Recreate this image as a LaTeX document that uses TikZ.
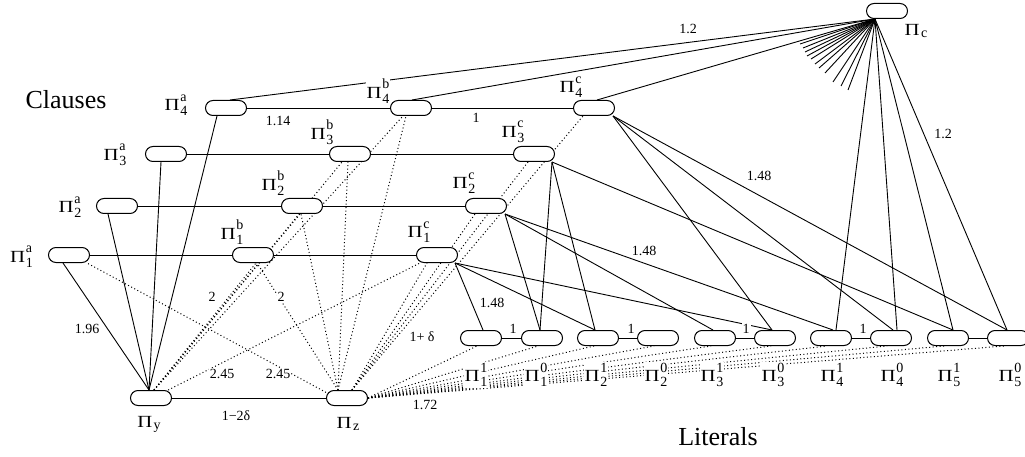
\documentclass[tikz,border=0pt]{standalone}
\usepackage{fontspec}
\usepackage{graphicx}
\setmainfont{Liberation Serif}
\usetikzlibrary{backgrounds}

% Pi with stacked super- and subscript
\newcommand\PiG{\scalebox{1.22}[1]{\fontsize{17pt}{17pt}\selectfont Π}}
\newcommand\PiL[2]{\PiG\kern0.8pt{\fontsize{14pt}{14pt}\selectfont\rlap{\raisebox{9.5pt}{#1}}\raisebox{-5pt}{#2}}}
\newcommand\PiS[1]{\PiG\kern1.5pt{\fontsize{14pt}{14pt}\selectfont\raisebox{-2pt}{#1}}}

\tikzset{
  pill/.style={draw, line width=1pt, fill=white, rounded corners=7.5pt,
               minimum width=41pt, minimum height=15pt, inner sep=0pt},
  edge/.style={line width=0.9pt},
  dots/.style={line width=1pt, dash pattern=on 1pt off 2.5pt},
  wt/.style={font=\fontsize{14pt}{14pt}\selectfont, fill=white, inner sep=1pt},
  plab/.style={fill=white, inner sep=1pt},
  heading/.style={font=\fontsize{26pt}{26pt}\selectfont}
}

\begin{document}
\begin{tikzpicture}[x=1pt,y=-1pt]
\useasboundingbox (0,0) rectangle (1025,457);

% clause gadgets
\node[pill] (a1) at (69,255) {};
\node[pill] (a2) at (117,206) {};
\node[pill] (a3) at (166,154) {};
\node[pill] (a4) at (226,108) {};
\node[pill] (b1) at (253,255) {};
\node[pill] (b2) at (302,206) {};
\node[pill] (b3) at (350,154) {};
\node[pill] (b4) at (411,108) {};
\node[pill] (c1) at (437,255) {};
\node[pill] (c2) at (486,206) {};
\node[pill] (c3) at (534,154) {};
\node[pill] (c4) at (594,108) {};
% special vertices
\node[pill] (pc) at (887,11) {};
\node[pill] (py) at (151,398) {};
\node[pill] (pz) at (347,398) {};
% literal vertices
\foreach \n/\x in {l11/481,l10/542,l21/598,l20/658,l31/715,l30/775,l41/831,l40/891,l51/948,l50/1008}
  \node[pill] (\n) at (\x,338) {};

\coordinate (pco) at ([xshift=-12pt]pc.south);

\begin{scope}[on background layer]
  % rows of the clause gadgets
  \draw[edge] (a1) -- (b1) -- (c1);
  \draw[edge] (a2) -- (b2) -- (c2);
  \draw[edge] (a3) -- (b3) -- (c3);
  \draw[edge] (a4) -- (b4) -- (c4);
  \draw[edge] (py) -- (pz);
  \foreach \i in {1,...,5} \draw[edge] (l\i1) -- (l\i0);

  % Pi_y to the a-vertices
  \draw[edge] ([xshift=-2pt]py.north) -- ([xshift=-6pt]a1.south);
  \draw[edge] ([xshift=-2pt]py.north) -- ([xshift=-9pt]a2.south);
  \draw[edge] ([xshift=-2pt]py.north) -- ([xshift=-5pt]a3.south);
  \draw[edge] ([xshift=-2pt]py.north) -- ([xshift=-9pt]a4.south);

  % Pi_c
  \draw[edge] (pco) -- ([xshift=4pt]a4.north);
  \draw[edge] (pco) -- ([xshift=1pt]b4.north);
  \draw[edge] (pco) -- ([xshift=3pt]c4.north);
  \draw[edge] (pco) -- ([xshift=5pt]l41.north);
  \draw[edge] (pco) -- ([xshift=6pt]l40.north);
  \draw[edge] (pco) -- ([xshift=5pt]l51.north);
  \draw[edge] (pco) -- ([xshift=-1pt]l50.north);
  \foreach \x/\y in {800/44,803/48,805/52,807/56,811/59,815/64,819/68,825/73,833/82,841/86,848/90}
    \draw[edge] (pco) -- (\x,\y);

  % clause vertices to their literals
  \draw[edge] ([xshift=18pt]c1.south) -- ([xshift=2pt]l11.north);
  \draw[edge] ([xshift=18pt]c1.south) -- ([xshift=-3pt]l21.north);
  \draw[edge] ([xshift=18pt]c1.south) -- ([xshift=-3pt]l30.north);
  \draw[edge] ([xshift=19pt]c2.south) -- ([xshift=-2pt]l10.north);
  \draw[edge] ([xshift=19pt]c2.south) -- ([xshift=-2pt]l31.north);
  \draw[edge] ([xshift=19pt]c2.south) -- ([xshift=2pt]l41.north);
  \draw[edge] ([xshift=18pt]c3.south) -- ([xshift=-2pt]l10.north);
  \draw[edge] ([xshift=18pt]c3.south) -- ([xshift=-3pt]l21.north);
  \draw[edge] ([xshift=18pt]c3.south) -- ([xshift=5pt]l51.north);
  \draw[edge] ([xshift=19pt]c4.south) -- ([xshift=-3pt]l30.north);
  \draw[edge] ([xshift=19pt]c4.south) -- ([xshift=2pt]l40.north);
  \draw[edge] ([xshift=19pt]c4.south) -- ([xshift=-1pt]l50.north);

  % dotted edges
  \draw[dots] ([xshift=3pt]py.north) -- ([xshift=3pt]b1.south);
  \draw[dots] ([xshift=3pt]py.north) -- ([xshift=-2pt]b2.south);
  \draw[dots] ([xshift=3pt]py.north) -- ([xshift=-8pt]b3.south);
  \draw[dots] ([xshift=3pt]py.north) -- ([xshift=-8pt]b4.south);
  \draw[dots] ([xshift=-9pt]pz.north) -- ([xshift=4pt]b1.south);
  \draw[dots] ([xshift=-9pt]pz.north) -- ([xshift=-1pt]b2.south);
  \draw[dots] ([xshift=-9pt]pz.north) -- ([xshift=-2pt]b3.south);
  \draw[dots] ([xshift=-9pt]pz.north) -- ([xshift=-5pt]b4.south);
  \draw[dots] ([xshift=5pt]pz.north) -- ([xshift=-10pt]c1.south);
  \draw[dots] ([xshift=5pt]pz.north) -- ([xshift=-11pt]c2.south);
  \draw[dots] ([xshift=5pt]pz.north) -- ([xshift=-6pt]c3.south);
  \draw[dots] ([xshift=5pt]pz.north) -- ([xshift=-11pt]c4.south);
  \draw[dots] (py.25) -- ([xshift=-17pt]c1.south);
  \draw[dots] (pz.165) -- ([xshift=18pt]a1.south);
  \foreach \n in {l11,l10,l21,l20,l31,l30,l41,l40,l51,l50}
    \draw[dots] (pz.east) -- ([xshift=-4pt]\n.south);
\end{scope}

% vertex labels
\node[plab] at (21.5,256.5) {\PiL{a}{1}};
\node[plab] at (70,207) {\PiL{a}{2}};
\node[plab] at (115,155) {\PiL{a}{3}};
\node[plab] at (176,105) {\PiL{a}{4}};
\node[plab] at (232,232) {\PiL{b}{1}};
\node[plab] at (273,183) {\PiL{b}{2}};
\node[plab] at (322,132) {\PiL{b}{3}};
\node[plab] at (378,91) {\PiL{b}{4}};
\node[plab] at (419,232) {\PiL{c}{1}};
\node[plab] at (464,183) {\PiL{c}{2}};
\node[plab] at (513,132) {\PiL{c}{3}};
\node[plab] at (571,87) {\PiL{c}{4}};
\node at (916,31) {\PiS{c}};
\node at (149,424) {\PiS{y}};
\node at (348,424) {\PiS{z}};
\foreach \x/\s/\i in {476/1/1,536/0/1,596/1/2,656/0/2,712/1/3,773/0/3,832/1/4,892/0/4,949/1/5,1010/0/5}
  \node[plab] at (\x,375) {\PiL{\s}{\i}};

% edge weights
\node[wt] at (278,121) {1.14};
\node[wt] at (476,118) {1};
\node[wt] at (688,29) {1.2};
\node[wt] at (943,134) {1.2};
\node[wt] at (759,176) {1.48};
\node[wt] at (644,251) {1.48};
\node[wt] at (492,303) {1.48};
\node[wt] at (87,329) {1.96};
\node[wt] at (212,297) {2};
\node[wt] at (281,297) {2};
\node[wt] at (222,374) {2.45};
\node[wt] at (278,374) {2.45};
\node[wt] at (422,337) {1+ δ};
\node[wt] at (425,405) {1.72};
\node[wt] at (236,416) {1−2δ};
\node[wt] at (513,329) {1};
\node[wt] at (631,329) {1};
\node[wt] at (746,329) {1};
\node[wt] at (863,329) {1};

% headings
\node[heading] at (66,100) {Clauses};
\node[heading] at (718,437) {Literals};
\end{tikzpicture}
\end{document}
